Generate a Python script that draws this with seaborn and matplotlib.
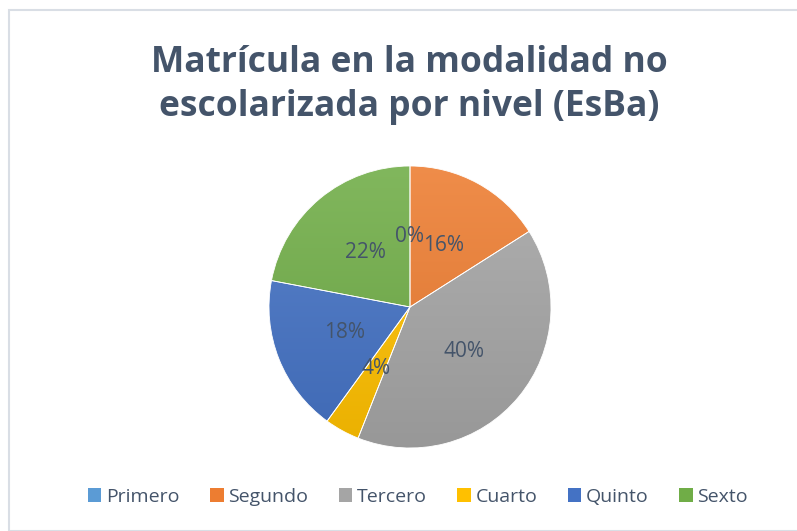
import numpy as np
import matplotlib
matplotlib.use("Agg")
import matplotlib.pyplot as plt
import seaborn as sns
from matplotlib.colors import LinearSegmentedColormap, to_rgb
from matplotlib.patches import Rectangle, Patch

categories = ["Primero", "Segundo", "Tercero", "Cuarto", "Quinto", "Sexto"]
values = [0, 16, 40, 4, 18, 22]
colors = ["#5B9BD5", "#ED7D31", "#A5A5A5", "#FFC000", "#4472C4", "#70AD47"]
title = "Matrícula en la modalidad no\nescolarizada por nivel (EsBa)"

sns.set_theme(style="white")
plt.rcParams['font.family'] = ['Open Sans', 'DejaVu Sans']
text_color = "#44546A"

fig = plt.figure(figsize=(7.97, 5.31), dpi=100)
W, H = 797, 531
cx, cy, r = 410, 307, 141
ax = fig.add_axes([(cx - r) / W, (H - cy - r) / H, 2 * r / W, 2 * r / H])

wedges, texts, autotexts = ax.pie(
    values, colors=colors, startangle=90, counterclock=False,
    autopct=lambda p: f"{p:.0f}%", pctdistance=0.5,
    wedgeprops=dict(edgecolor="white", linewidth=0.6),
    textprops=dict(color=text_color, fontsize=15))

def shade(c, f):
    c = np.array(to_rgb(c))
    return tuple(np.clip(c * f, 0, 1))

def lighten(c, f):
    c = np.array(to_rgb(c))
    return tuple(c + (1 - c) * f)

grad = np.linspace(0, 1, 256).reshape(-1, 1)
for w, c in zip(wedges, colors):
    if w.theta1 == w.theta2:
        continue
    cmap = LinearSegmentedColormap.from_list("g", [lighten(c, 0.12), shade(c, 0.92)])
    im = ax.imshow(grad, extent=[-1, 1, -1, 1], origin="upper", cmap=cmap,
                   aspect="auto", zorder=w.get_zorder() + 0.01, interpolation="bilinear")
    im.set_clip_path(w)
    w.set_facecolor("none")
    w.set_zorder(w.get_zorder() + 0.02)
for t in autotexts:
    t.set_zorder(10)

ax.set_xlim(-1.0, 1.0)
ax.set_ylim(-1.0, 1.0)
ax.set_aspect("equal")
ax.axis("off")

fig.text(0.514, 1 - 85 / H, title, ha="center", va="center", fontsize=25.5,
         fontweight="bold", color=text_color, linespacing=1.3)

handles = [Patch(facecolor=c, edgecolor="none") for c in colors]
fig.legend(handles, categories, loc="center", bbox_to_anchor=(418 / W, 1 - 497 / H),
           ncol=6, frameon=False, fontsize=14, labelcolor=text_color,
           handlelength=0.7, handleheight=0.7, handletextpad=0.25, columnspacing=1.55)

fig.patches.append(Rectangle((9 / W, 0), 1, 1 - 10 / H, transform=fig.transFigure,
                             fill=False, edgecolor="#D9DEE5", linewidth=1.5))

fig.savefig("out.png", dpi=100, facecolor="white")
